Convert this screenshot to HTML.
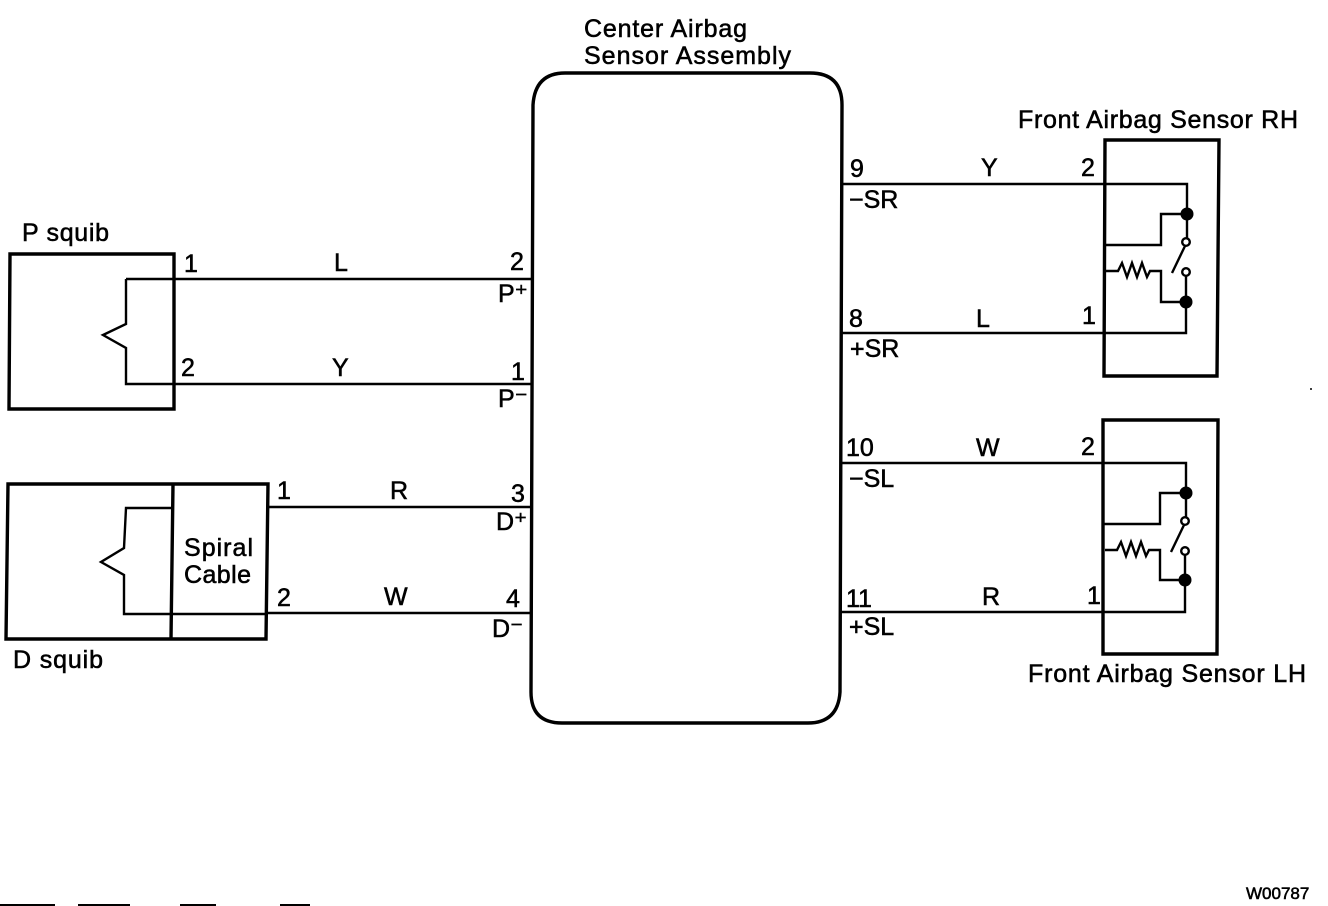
<!DOCTYPE html>
<html><head><meta charset="utf-8"><style>
html,body{margin:0;padding:0;background:#fff}
svg{display:block}
text{font-family:"Liberation Sans",sans-serif;font-size:25px;fill:#000;stroke:#000;stroke-width:.55}
</style></head><body>
<svg width="1328" height="906" viewBox="0 0 1328 906" xmlns="http://www.w3.org/2000/svg">
<rect width="1328" height="906" fill="#fff"/>
<g fill="none" stroke="#000" stroke-width="2.4">
<path stroke-width="3.4" d="M565 73H810Q842 73 842 105L840 692Q838 723 808 723H562Q531 723 531 692L533 105Q535 73 565 73Z"/>
<path stroke-width="3.4" d="M10 254H174V409H9Z"/>
<path d="M174 279H531M174 384H531M126 279V324L103 335L126 348V384H174M126 279H174"/>
<path stroke-width="3.4" d="M8 484H268L266 639H6ZM173 484L171 639"/>
<path d="M268 507H531M266 613H531M172 508H126L124 548L101 562L124 575V614H266M126 508H172"/>
<path d="M842 184H1187V214M842 333H1186V306"/>
<path stroke-width="3.4" d="M1105 140H1219L1217 376H1104Z"/>
<path d="M1187 214H1161V245H1104M1187 220V238M1186 276V296M1106 271H1118L1122 263L1127 277L1132 263L1137 277L1142 263L1147 277L1150 271H1161V302H1186M1185 246L1172 273"/>
<path d="M842 463H1186V493M840 612H1185V585"/>
<path stroke-width="3.4" d="M1103 420H1218L1217 654H1103Z"/>
<path d="M1186 493H1160V524H1103M1186 499V517M1185 555V575M1105 550H1117L1121 542L1126 556L1131 542L1136 556L1141 542L1146 556L1149 550H1160V580H1185M1184 525L1171 552"/>
</g>
<g fill="#000">
<circle cx="1187" cy="214" r="6.5"/><circle cx="1186" cy="302" r="6.5"/>
<circle cx="1186" cy="493" r="6.5"/><circle cx="1185" cy="580" r="6.5"/>
<path d="M0 904H55V906H0ZM78 904H130V906H78ZM180 904H216V906H180ZM280 904H310V906H280Z"/>
<circle cx="1311" cy="389" r="1"/>
</g>
<g fill="#fff" stroke="#000" stroke-width="2.4">
<circle cx="1186" cy="242" r="3.8"/><circle cx="1186" cy="272" r="3.8"/>
<circle cx="1185" cy="521" r="3.8"/><circle cx="1185" cy="551" r="3.8"/>
</g>
<text x="584" y="37" textLength="163" lengthAdjust="spacing">Center Airbag</text>
<text x="584" y="64" textLength="207" lengthAdjust="spacing">Sensor Assembly</text>
<text x="1018" y="128" textLength="280" lengthAdjust="spacing">Front Airbag Sensor RH</text>
<text x="1028" y="682" textLength="278" lengthAdjust="spacing">Front Airbag Sensor LH</text>
<text x="22" y="241" textLength="87" lengthAdjust="spacing">P squib</text>
<text x="13" y="668" textLength="90" lengthAdjust="spacing">D squib</text>
<text x="184" y="556" textLength="69" lengthAdjust="spacing">Spiral</text>
<text x="184" y="583" textLength="67" lengthAdjust="spacing">Cable</text>
<text x="184" y="272">1</text><text x="334" y="271">L</text><text x="510" y="270">2</text>
<text x="498" y="302">P⁺</text>
<text x="181" y="376">2</text><text x="332" y="376">Y</text><text x="511" y="380">1</text>
<text x="498" y="407">P⁻</text>
<text x="277" y="499">1</text><text x="390" y="499">R</text><text x="511" y="502">3</text>
<text x="496" y="530">D⁺</text>
<text x="277" y="606">2</text><text x="384" y="605">W</text><text x="506" y="607">4</text>
<text x="492" y="637">D⁻</text>
<text x="850" y="177">9</text><text x="981" y="176">Y</text><text x="1081" y="176">2</text>
<text x="849" y="208">−SR</text>
<text x="849" y="327">8</text><text x="976" y="327">L</text><text x="1082" y="324">1</text>
<text x="850" y="357">+SR</text>
<text x="846" y="456">10</text><text x="976" y="456">W</text><text x="1081" y="455">2</text>
<text x="849" y="487">−SL</text>
<text x="846" y="607">11</text><text x="982" y="605">R</text><text x="1087" y="604">1</text>
<text x="849" y="635">+SL</text>
<text x="1246" y="899" style="font-size:17px">W00787</text>
</svg>
</body></html>
